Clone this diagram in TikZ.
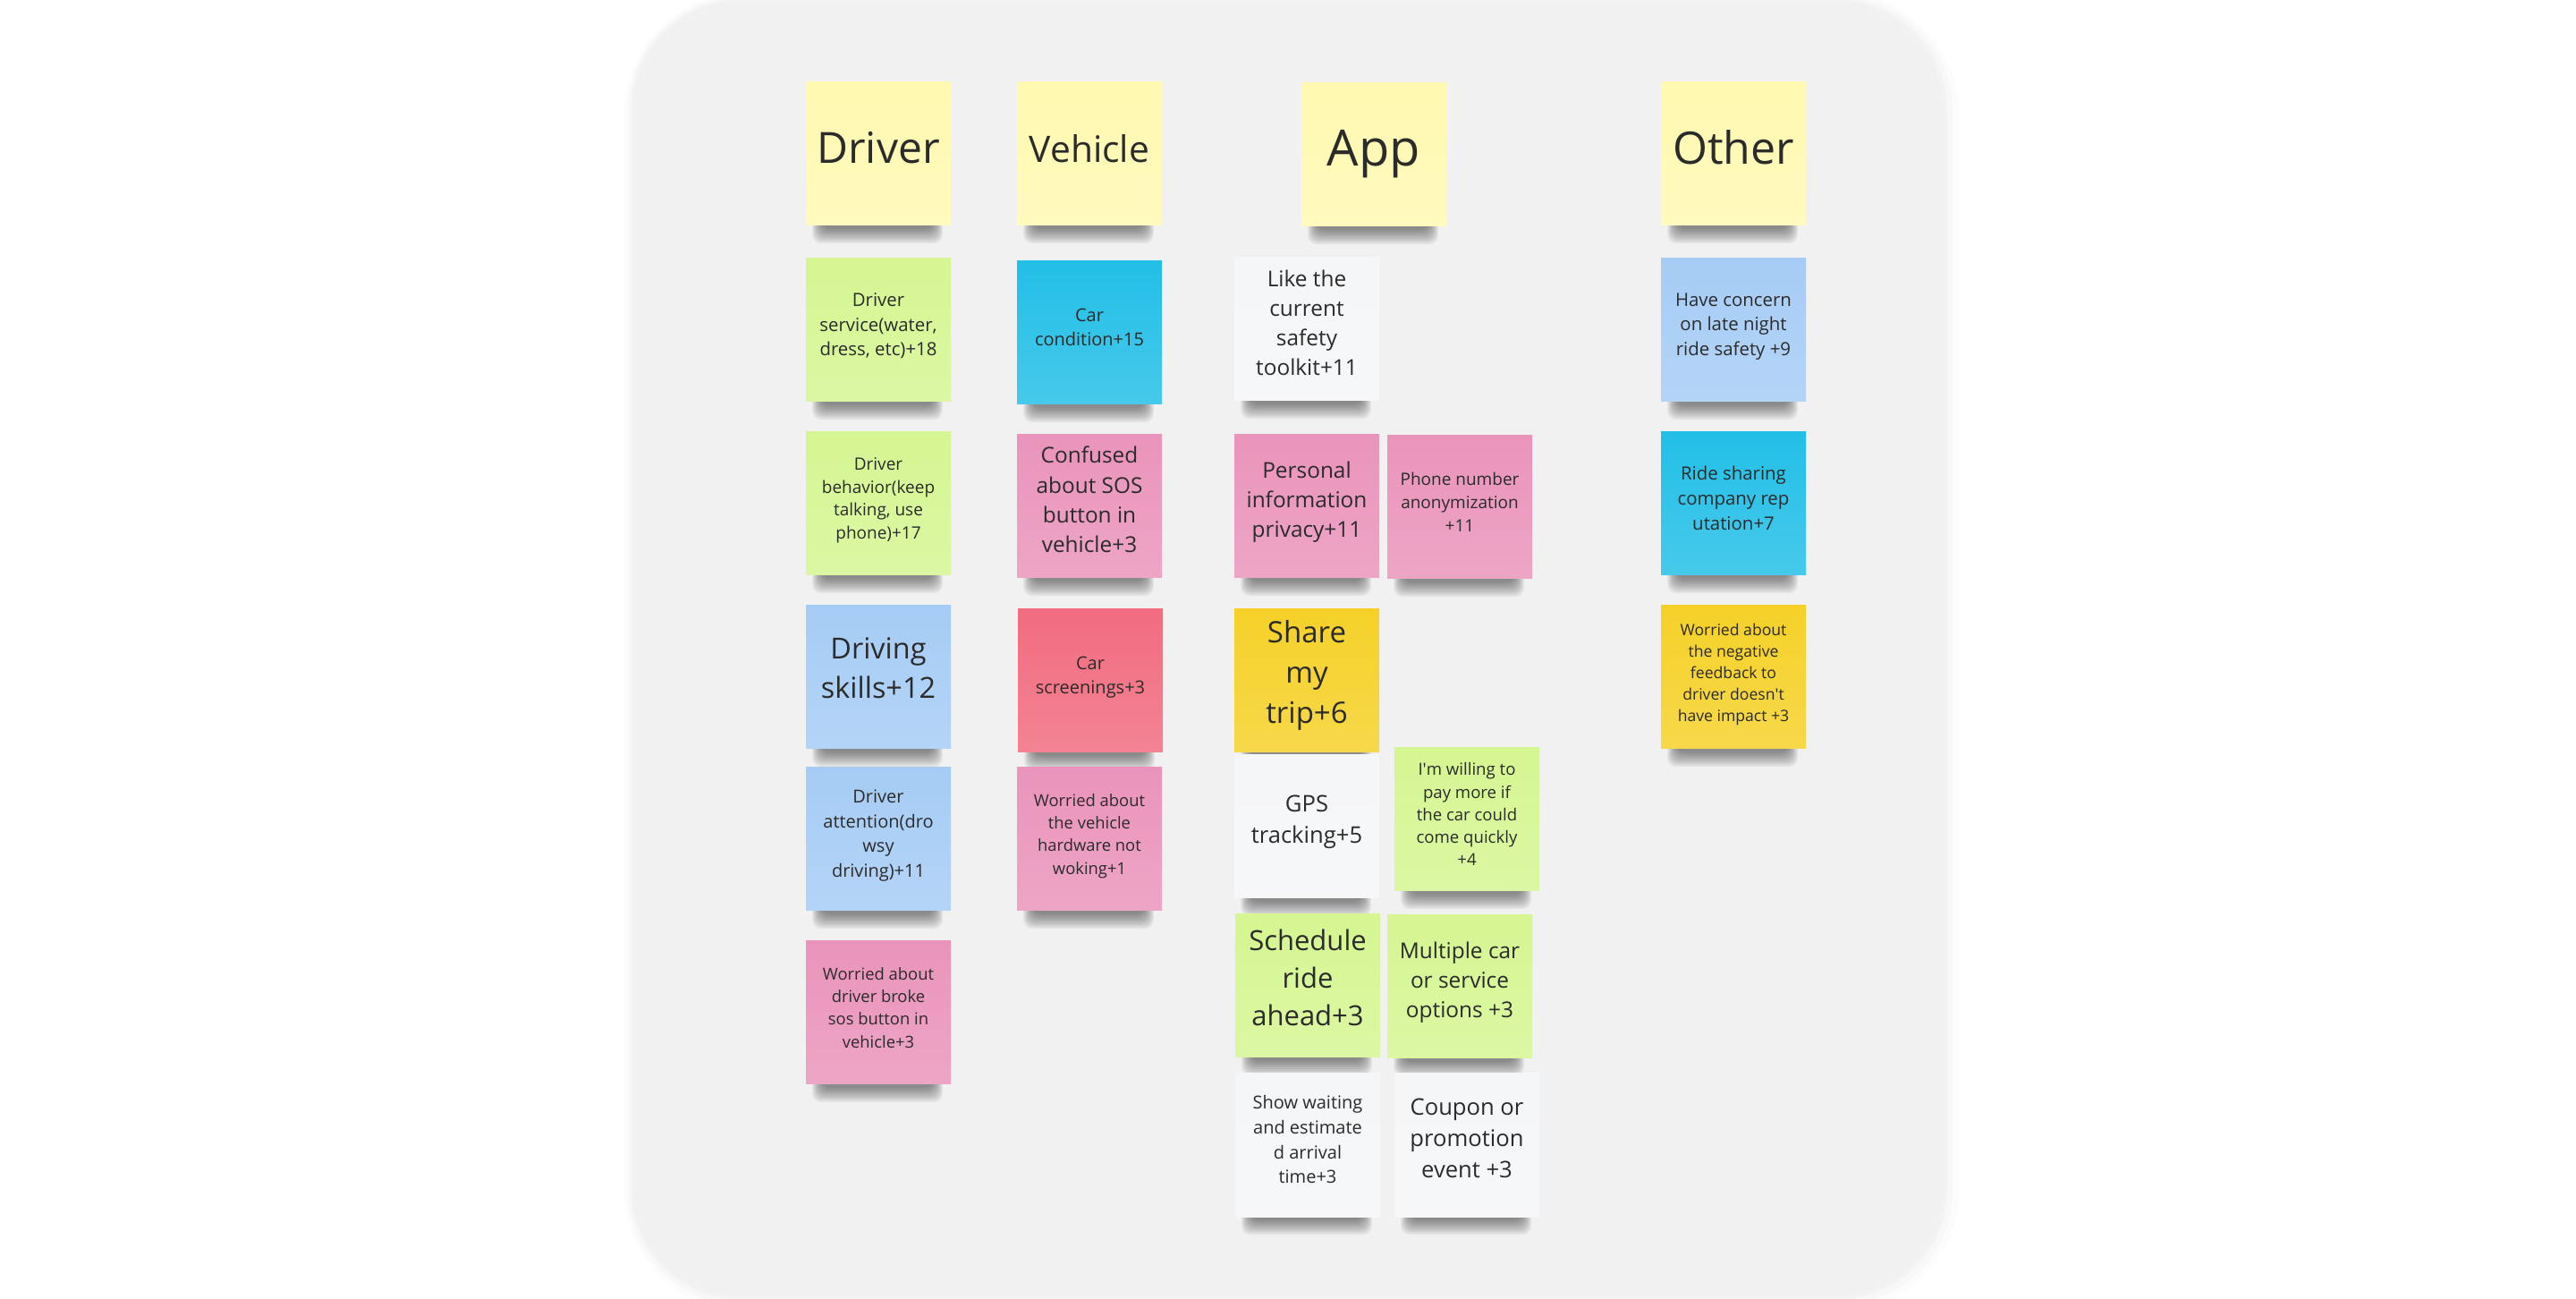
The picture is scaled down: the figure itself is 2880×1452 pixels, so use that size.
\documentclass[tikz,border=0pt]{standalone}
\usepackage{fontspec}
\setmainfont{Open Sans}
\usetikzlibrary{backgrounds}
\definecolor{board}{HTML}{F1F1F1}
\definecolor{paleyellow}{HTML}{FFF9B1}
\definecolor{lime}{HTML}{D5F692}
\definecolor{skyblue}{HTML}{23BFE7}
\definecolor{rose}{HTML}{EA94BB}
\definecolor{coral}{HTML}{F16C7F}
\definecolor{paleblue}{HTML}{A6CCF5}
\definecolor{sun}{HTML}{F5D128}
\definecolor{paper}{HTML}{F5F6F8}
\definecolor{ink}{HTML}{2B2B2B}

\begin{document}
\begin{tikzpicture}[x=0.25pt, y=-0.25pt,
        sticky/.style={rectangle, inner sep=0pt, minimum width=40.5pt, minimum height=40pt,
            align=center, text=ink, top color=#1, bottom color=#1!84!white,
            execute at begin node={\rule{0pt}{1.07em}},
            execute at end node={\rule[-0.62em]{0pt}{0pt}}},
        fs/.style 2 args={font=\fontsize{#1pt}{#2pt}\selectfont}]
        \useasboundingbox (0,0) rectangle (2880,1452);
        % headers
        \node[sticky=paleyellow, fs={12}{16}] (hdrDriver) at (982,172) {Driver};
        \node[sticky=paleyellow, fs={10.2}{14}] (hdrVehicle) at (1218,172) {Vehicle};
        \node[sticky=paleyellow, fs={14}{19}] (hdrApp) at (1536,173) {App};
        \node[sticky=paleyellow, fs={12.5}{17}] (hdrOther) at (1938,172) {Other};
        % driver
        \node[sticky=lime, fs={5.1}{6.9}] (drvService) at (982,369) {Driver\\service(water,\\dress, etc)+18};
        \node[sticky=lime, fs={4.75}{6.45}] (drvBehavior) at (982,563) {Driver\\behavior(keep\\talking, use\\phone)+17};
        \node[sticky=paleblue, fs={8.1}{11}] (drvSkills) at (982,757) {Driving\\skills+12};
        \node[sticky=paleblue, fs={5}{6.9}] (drvAttention) at (982,938) {Driver\\attention(dro\\wsy\\driving)+11};
        \node[sticky=rose, fs={4.6}{6.35}] (drvSos) at (982,1132) {Worried about\\driver broke\\sos button in\\vehicle+3};
        % vehicle
        \node[sticky=skyblue, fs={5}{6.85}] (vehCondition) at (1218,372) {Car\\condition+15};
        \node[sticky=rose, fs={6.1}{8.3}] (vehSos) at (1218,566) {Confused\\about SOS\\button in\\vehicle+3};
        \node[sticky=coral, fs={5}{6.9}] (vehScreening) at (1219,761) {Car\\screenings+3};
        \node[sticky=rose, fs={4.6}{6.3}] (vehHardware) at (1218,938) {Worried about\\the vehicle\\hardware not\\woking+1};
        % app
        \node[sticky=paper, fs={6.1}{8.25}] (appToolkit) at (1461,368) {Like the\\current\\safety\\toolkit+11};
        \node[sticky=rose, fs={6.1}{8.25}] (appPrivacy) at (1461,566) {Personal\\information\\privacy+11};
        \node[sticky=rose, fs={4.75}{6.5}] (appPhone) at (1632,567) {Phone number\\anonymization\\+11};
        \node[sticky=sun, fs={8.25}{11.25}] (appShare) at (1461,761) {Share\\my\\trip+6};
        \node[sticky=paper, fs={6.4}{8.75}] (appGps) at (1461,924) {GPS\\tracking+5};
        \node[sticky=lime, fs={4.65}{6.3}] (appPay) at (1640,916) {I\textquotesingle m willing to\\pay more if\\the car could\\come quickly\\+4};
        \node[sticky=lime, fs={7.75}{10.5}] (appSchedule) at (1462,1102) {Schedule\\ride\\ahead+3};
        \node[sticky=lime, fs={6.1}{8.25}] (appOptions) at (1632,1103) {Multiple car\\or service\\options +3};
        \node[sticky=paper, fs={5}{6.9}] (appWaiting) at (1462,1280) {Show waiting\\and estimate\\d arrival\\time+3};
        \node[sticky=paper, fs={6.4}{8.75}] (appCoupon) at (1640,1280) {Coupon or\\promotion\\event +3};
        % other
        \node[sticky=paleblue, fs={5.1}{6.9}] (othNight) at (1938,369) {Have concern\\on late night\\ride safety +9};
        \node[sticky=skyblue, fs={5.1}{7}] (othReputation) at (1938,563) {Ride sharing\\company rep\\utation+7};
        \node[sticky=sun, fs={4.4}{6}] (othFeedback) at (1938,757) {Worried about\\the negative\\feedback to\\driver doesn\textquotesingle t\\have impact +3};
        % board and shadows
        \begin{scope}[on background layer]
        \fill[black, opacity=0.012, rounded corners=34pt] (698,-8) rectangle (2190,1466);
        \fill[black, opacity=0.015, rounded corners=32pt] (702,-4) rectangle (2183,1459);
        \fill[black, opacity=0.02, rounded corners=31pt] (705,-1) rectangle (2177,1453);
        \fill[board, rounded corners=30pt] (708,2) rectangle (2172,1449);
        \foreach \n in {hdrDriver,hdrVehicle,hdrApp,hdrOther,drvService,drvBehavior,drvSkills,
                drvAttention,drvSos,vehCondition,vehSos,vehScreening,vehHardware,appToolkit,
                appPrivacy,appPhone,appShare,appGps,appPay,appSchedule,appOptions,appWaiting,
                appCoupon,othNight,othReputation,othFeedback}
            \foreach \k in {0,...,9}
                \fill[black, opacity=0.05, rounded corners=2.5pt]
                    ([xshift=4.5pt-\k*0.28pt, yshift=12pt]\n.south west)
                    rectangle ([xshift=-5pt+\k*0.28pt, yshift=-0.8pt-\k*0.45pt]\n.south east);
        \end{scope}
    \end{tikzpicture}
\end{document}
